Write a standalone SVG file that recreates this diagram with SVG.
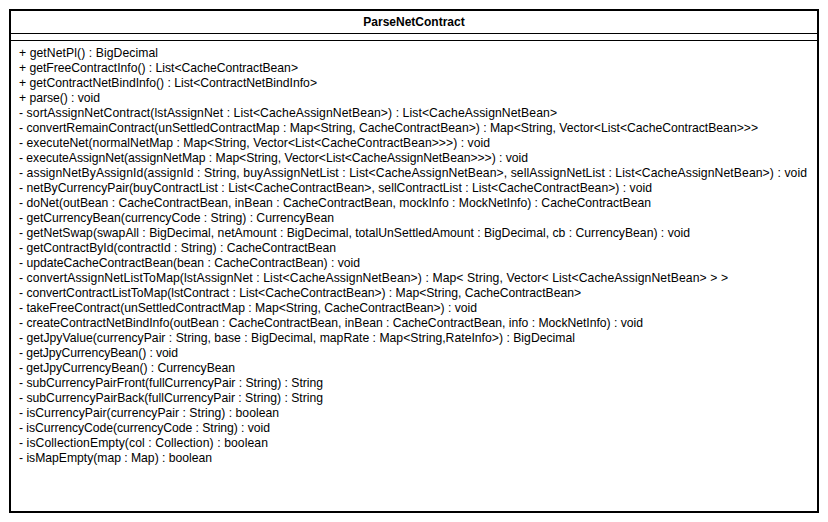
<svg xmlns="http://www.w3.org/2000/svg" width="828" height="522" viewBox="0 0 828 522">
<style>
.t{font-family:"Liberation Sans",Arial,sans-serif;font-size:12.2px;fill:#000}
.h{font-family:"Liberation Sans",Arial,sans-serif;font-size:12px;font-weight:bold;fill:#000}
.b{fill:#fff;stroke:#000;stroke-width:2}
.l{stroke:#000;stroke-width:1}
</style>
<rect width="828" height="522" fill="#fff"/>
<g id="ParseNetContract">
<rect class="b" x="10" y="10" width="808" height="502"/>
<line class="l" x1="10" y1="33.5" x2="818" y2="33.5"/>
<line class="l" x1="10" y1="40.5" x2="818" y2="40.5"/>
<text class="h" x="414" y="26" text-anchor="middle">ParseNetContract</text>
<g class="t" lengthAdjust="spacing">
<text x="19" y="57" textLength="139">+ getNetPl() : BigDecimal</text>
<text x="19" y="72" textLength="279">+ getFreeContractInfo() : List&lt;CacheContractBean&gt;</text>
<text x="19" y="87" textLength="298">+ getContractNetBindInfo() : List&lt;ContractNetBindInfo&gt;</text>
<text x="19" y="102" textLength="81">+ parse() : void</text>
<text x="19" y="117" textLength="538">- sortAssignNetContract(lstAssignNet : List&lt;CacheAssignNetBean&gt;) : List&lt;CacheAssignNetBean&gt;</text>
<text x="19" y="132" textLength="739">- convertRemainContract(unSettledContractMap : Map&lt;String, CacheContractBean&gt;) : Map&lt;String, Vector&lt;List&lt;CacheContractBean&gt;&gt;&gt;</text>
<text x="19" y="147" textLength="471">- executeNet(normalNetMap : Map&lt;String, Vector&lt;List&lt;CacheContractBean&gt;&gt;&gt;) : void</text>
<text x="19" y="162" textLength="509">- executeAssignNet(assignNetMap : Map&lt;String, Vector&lt;List&lt;CacheAssignNetBean&gt;&gt;&gt;) : void</text>
<text x="19" y="177" textLength="788">- assignNetByAssignId(assignId : String, buyAssignNetList : List&lt;CacheAssignNetBean&gt;, sellAssignNetList : List&lt;CacheAssignNetBean&gt;) : void</text>
<text x="19" y="192" textLength="633">- netByCurrencyPair(buyContractList : List&lt;CacheContractBean&gt;, sellContractList : List&lt;CacheContractBean&gt;) : void</text>
<text x="19" y="207" textLength="632">- doNet(outBean : CacheContractBean, inBean : CacheContractBean, mockInfo : MockNetInfo) : CacheContractBean</text>
<text x="19" y="222" textLength="315">- getCurrencyBean(currencyCode : String) : CurrencyBean</text>
<text x="19" y="237" textLength="671">- getNetSwap(swapAll : BigDecimal, netAmount : BigDecimal, totalUnSettledAmount : BigDecimal, cb : CurrencyBean) : void</text>
<text x="19" y="252" textLength="317">- getContractById(contractId : String) : CacheContractBean</text>
<text x="19" y="267" textLength="341">- updateCacheContractBean(bean : CacheContractBean) : void</text>
<text x="19" y="282" textLength="709">- convertAssignNetListToMap(lstAssignNet : List&lt;CacheAssignNetBean&gt;) : Map&lt; String, Vector&lt; List&lt;CacheAssignNetBean&gt; &gt; &gt;</text>
<text x="19" y="297" textLength="562">- convertContractListToMap(lstContract : List&lt;CacheContractBean&gt;) : Map&lt;String, CacheContractBean&gt;</text>
<text x="19" y="312" textLength="458">- takeFreeContract(unSettledContractMap : Map&lt;String, CacheContractBean&gt;) : void</text>
<text x="19" y="327" textLength="624">- createContractNetBindInfo(outBean : CacheContractBean, inBean : CacheContractBean, info : MockNetInfo) : void</text>
<text x="19" y="342" textLength="556">- getJpyValue(currencyPair : String, base : BigDecimal, mapRate : Map&lt;String,RateInfo&gt;) : BigDecimal</text>
<text x="19" y="357" textLength="159">- getJpyCurrencyBean() : void</text>
<text x="19" y="372" textLength="216">- getJpyCurrencyBean() : CurrencyBean</text>
<text x="19" y="387" textLength="304">- subCurrencyPairFront(fullCurrencyPair : String) : String</text>
<text x="19" y="402" textLength="304">- subCurrencyPairBack(fullCurrencyPair : String) : String</text>
<text x="19" y="417" textLength="260">- isCurrencyPair(currencyPair : String) : boolean</text>
<text x="19" y="432" textLength="251">- isCurrencyCode(currencyCode : String) : void</text>
<text x="19" y="447" textLength="249">- isCollectionEmpty(col : Collection) : boolean</text>
<text x="19" y="462" textLength="193">- isMapEmpty(map : Map) : boolean</text>
</g>
</g>
</svg>
